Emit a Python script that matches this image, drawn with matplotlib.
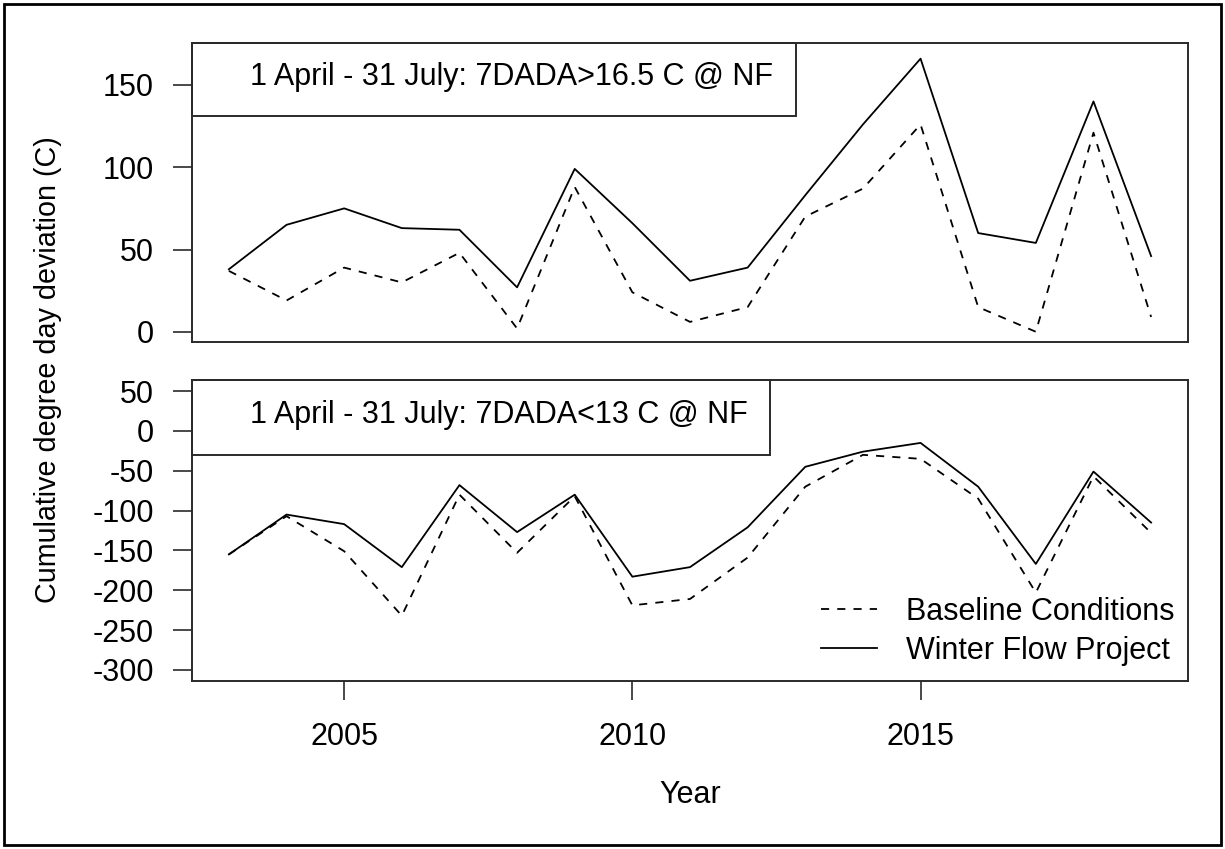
import matplotlib
matplotlib.use("Agg")
import matplotlib.pyplot as plt
from matplotlib.patches import Rectangle

plt.rcParams['font.family'] = ['Liberation Sans', 'DejaVu Sans']

years = list(range(2003, 2020))

# Panel 1: 7DADA > 16.5 C
warm_baseline = [37, 19, 39, 30, 48, 2, 88, 24, 6, 15, 70, 87, 126, 15, 0, 121, 9]
warm_wfp = [38, 65, 75, 63, 62, 27, 99, 66, 31, 39, 83, 126, 166, 60, 54, 140, 46]

# Panel 2: 7DADA < 13 C
cold_baseline = [-155, -107, -151, -232, -80, -153, -82, -219, -211, -159, -70, -30, -35, -85, -203, -57, -128]
cold_wfp = [-155, -105, -117, -171, -68, -127, -80, -183, -171, -121, -45, -26, -15, -70, -167, -51, -115]

top_yticks = [0, 50, 100, 150]
bottom_yticks = [50, 0, -50, -100, -150, -200, -250, -300]
xticks = [2005, 2010, 2015]

panel_titles = ["1 April - 31 July: 7DADA>16.5 C @ NF",
                "1 April - 31 July: 7DADA<13 C @ NF"]
series_labels = ["Baseline Conditions", "Winter Flow Project"]

W, H = 1225, 849
FS = 22
fig = plt.figure(figsize=(W / 100, H / 100), dpi=100)

# outer frame
fig.patches.append(Rectangle((4 / W, 4 / H), 1 - 8 / W, 1 - 8 / H, transform=fig.transFigure,
                             fill=False, edgecolor='black', linewidth=2.0))

def px_axes(left, top, right, bottom):
    return fig.add_axes([left / W, 1 - bottom / H, (right - left) / W, (bottom - top) / H])

ax1 = px_axes(192, 42.7, 1188, 342.3)
ax2 = px_axes(192, 380, 1188, 681)

dash = (0, (4.5, 4.5))
lw = 1.3
frame_col = '#2a2a2a'

for ax, base, wfp, yt, ylim, title, boxr, boxb, axT, axB in [
        (ax1, warm_baseline, warm_wfp, top_yticks, (-6.4, 175.7), panel_titles[0], 796, 116, 42.7, 342.3),
        (ax2, cold_baseline, cold_wfp, bottom_yticks, (-314, 64), panel_titles[1], 770, 455, 380, 681)]:
    ax.plot(years, base, color='black', linestyle=dash, linewidth=lw, label=series_labels[0])
    ax.plot(years, wfp, color='black', linestyle='-', linewidth=lw, label=series_labels[1])
    ax.set_xlim(2002.36, 2019.64)
    ax.set_ylim(*ylim)
    ax.set_yticks(yt)
    ax.set_yticklabels([str(v) for v in yt])
    ax.tick_params(axis='y', direction='out', length=13.5, width=1.2, pad=14,
                   labelsize=FS, color=frame_col)
    for s in ax.spines.values():
        s.set_linewidth(1.4)
        s.set_color(frame_col)
    fx = (boxr - 192) / 996
    fy = (axB - boxb) / (axB - axT)
    ax.add_patch(Rectangle((0, fy), fx, 1 - fy, transform=ax.transAxes, fill=False,
                           edgecolor=frame_col, linewidth=1.4, clip_on=False, zorder=5))
    ax.text(58 / 996, (fy + 1) / 2 + 0.008, title, transform=ax.transAxes, ha='left', va='center',
            fontsize=FS, zorder=6)

ax1.set_xticks([])
ax2.set_xticks(xticks)
ax2.set_xticklabels([str(v) for v in xticks])
ax2.tick_params(axis='x', direction='out', length=13.5, width=1.2, pad=16,
                labelsize=FS, color=frame_col)

leg = ax2.legend(loc='lower right', frameon=False, fontsize=FS,
                 bbox_to_anchor=((1175 - 192) / 996, (681 - 666) / 301),
                 borderpad=0, borderaxespad=0, handlelength=1.85, handletextpad=0.95,
                 labelspacing=0.3)

fig.text(690 / W, 1 - 795 / H, "Year", ha='center', va='center', fontsize=FS)
fig.text(48 / W, 1 - 370 / H, "Cumulative degree day deviation (C)", ha='center', va='center',
         rotation=90, fontsize=20.7)

fig.savefig("out.png", dpi=100)
